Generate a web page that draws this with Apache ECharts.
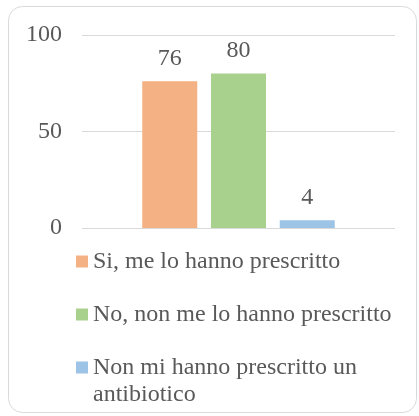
<!DOCTYPE html>
<html>
<head>
<meta charset="utf-8">
<script src="https://cdn.jsdelivr.net/npm/echarts@6/dist/echarts.min.js"></script>
<style>
  html, body { margin: 0; padding: 0; background: #fff; }
  #main { width: 419px; height: 416px; }
</style>
</head>
<body>
<div id="main"></div>
<script>
// dati
var seriesNames = ['Si, me lo hanno prescritto', 'No, non me lo hanno prescritto', 'Non mi hanno prescritto un antibiotico'];
var seriesValues = [76, 80, 4];
var seriesColors = ['#F4B183', '#A9D18E', '#9DC3E6'];
var yTicks = [0, 50, 100];

var myChart = echarts.init(document.getElementById('main'));

var series = seriesNames.map(function (name, i) {
  return {
    name: name,
    type: 'bar',
    data: [seriesValues[i]],
    barWidth: 55,
    barGap: '25%',
    itemStyle: {color: seriesColors[i]},
    label: {
      show: true,
      position: 'top',
      distance: 11,
      color: '#595959',
      fontFamily: 'Liberation Serif',
      fontSize: 24
    }
  };
});

// quadrato centrato per le voci su una riga
var squareIcon = 'path://M0,0h12v12h-12z';
// voce su due righe: quadrato in alto, allineato alla prima riga
var topSquareIcon = 'path://M0,0h12v12h-12zM0,38.99h0.01v0.01h-0.01z';

myChart.setOption({
  animation: false,
  textStyle: {fontFamily: 'Liberation Serif'},
  graphic: [{
    type: 'rect',
    shape: {x: 8.5, y: 6.5, width: 408, height: 406, r: 14},
    style: {fill: 'none', stroke: '#D9D9D9', lineWidth: 1},
    z: -10
  }],
  grid: {left: 82, right: 24, top: 35, bottom: 188},
  legend: {
    orient: 'vertical',
    left: 76,
    top: 248,
    height: 400,
    padding: 0,
    itemWidth: 12,
    itemHeight: 39,
    itemGap: 26,
    symbolKeepAspect: true,
    data: seriesNames.map(function (name, i) {
      return {name: name, icon: i === 2 ? topSquareIcon : squareIcon};
    }),
    textStyle: {
      color: '#595959',
      fontFamily: 'Liberation Serif',
      fontSize: 24,
      lineHeight: 27,
      width: 330,
      overflow: 'break'
    }
  },
  xAxis: {
    type: 'category',
    data: [''],
    axisLine: {show: false},
    axisTick: {show: false},
    axisLabel: {show: false}
  },
  yAxis: {
    type: 'value',
    min: yTicks[0],
    max: yTicks[yTicks.length - 1],
    interval: yTicks[1] - yTicks[0],
    axisLine: {show: false},
    axisTick: {show: false},
    axisLabel: {
      color: '#595959',
      fontFamily: 'Liberation Serif',
      fontSize: 24,
      margin: 20
    },
    splitLine: {lineStyle: {color: '#D9D9D9', width: 1}}
  },
  series: series
});
</script>
</body>
</html>
